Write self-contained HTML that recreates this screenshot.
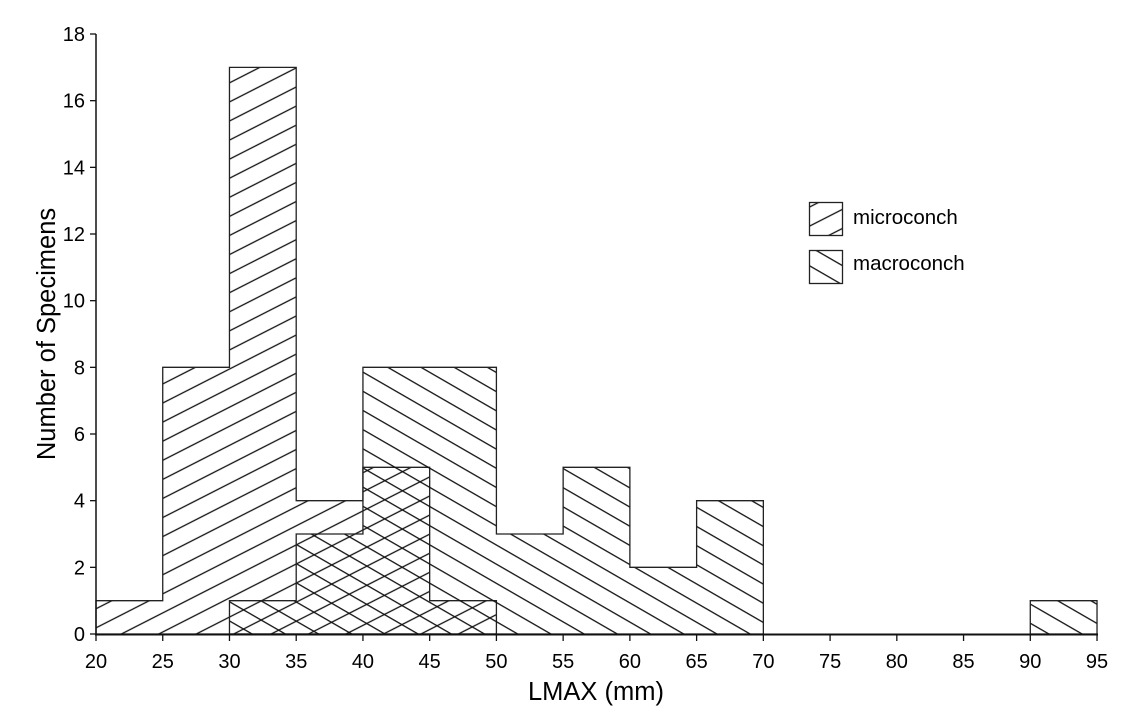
<!DOCTYPE html>
<html><head><meta charset="utf-8"><style>
html,body{margin:0;padding:0;background:#fff;}
svg{display:block;font-family:"Liberation Sans",Arial,sans-serif;}
</style></head><body>
<svg id="s" width="1132" height="723" viewBox="0 0 1132 723" xmlns="http://www.w3.org/2000/svg">
<defs>
<pattern id="pm" patternUnits="userSpaceOnUse" width="12" height="17" patternTransform="rotate(-27)">
<line x1="0" y1="8" x2="12" y2="8" stroke="#111" stroke-width="1.3"/></pattern>
<pattern id="pM" patternUnits="userSpaceOnUse" width="12" height="16.6" patternTransform="rotate(30)">
<line x1="0" y1="8" x2="12" y2="8" stroke="#111" stroke-width="1.3"/></pattern>
</defs>
<g id="g"></g>
</svg>
<script>
const X=v=>96+(v-20)*13.347, Y=c=>634-c*33.333;
const micro=[[20,1],[25,8],[30,17],[35,4],[40,5],[45,1]];
const macro=[[30,1],[35,3],[40,8],[45,8],[50,3],[55,5],[60,2],[65,4],[90,1]];
let h='';
function shape(bins,pat){
  let groups=[],cur=[];
  bins.forEach(b=>{ if(cur.length&&cur[cur.length-1][0]+5!==b[0]){groups.push(cur);cur=[];} cur.push(b);});
  groups.push(cur);
  groups.forEach(g=>{
    let d='M'+X(g[0][0])+','+Y(0);
    g.forEach(b=>{d+=' L'+X(b[0])+','+Y(b[1])+' L'+X(b[0]+5)+','+Y(b[1]);});
    d+=' L'+X(g[g.length-1][0]+5)+','+Y(0)+' Z';
    h+=`<path d="${d}" fill="url(#${pat})" stroke="#222" stroke-width="1.3"/>`;
  });
}
shape(micro,'pm');shape(macro,'pM');
h+=`<line x1="96" y1="34" x2="96" y2="635" stroke="#111" stroke-width="1.5"/>`;
h+=`<line x1="95" y1="634.5" x2="1098" y2="634.5" stroke="#111" stroke-width="2"/>`;
for(let c=0;c<=18;c+=2){h+=`<line x1="90" y1="${Y(c)}" x2="96" y2="${Y(c)}" stroke="#111" stroke-width="1.3"/><text x="85" y="${Y(c)+7}" font-size="20" text-anchor="end">${c}</text>`;}
for(let v=20;v<=95;v+=5){h+=`<line x1="${X(v)}" y1="634" x2="${X(v)}" y2="641" stroke="#111" stroke-width="1.3"/><text x="${X(v)}" y="668" font-size="20" text-anchor="middle">${v}</text>`;}
h+=`<text x="596" y="700" font-size="25.5" text-anchor="middle">LMAX (mm)</text>`;
h+=`<text transform="translate(55,334) rotate(-90)" font-size="25.5" text-anchor="middle">Number of Specimens</text>`;
h+=`<rect x="809.5" y="202.5" width="33" height="33" fill="url(#pm)" stroke="#222" stroke-width="1.3"/><text x="853" y="224" font-size="20.5">microconch</text>`;
h+=`<rect x="809.5" y="250.5" width="33" height="33" fill="url(#pM)" stroke="#222" stroke-width="1.3"/><text x="853" y="270" font-size="20.5">macroconch</text>`;
document.getElementById('g').innerHTML=h;
</script>
</body></html>
